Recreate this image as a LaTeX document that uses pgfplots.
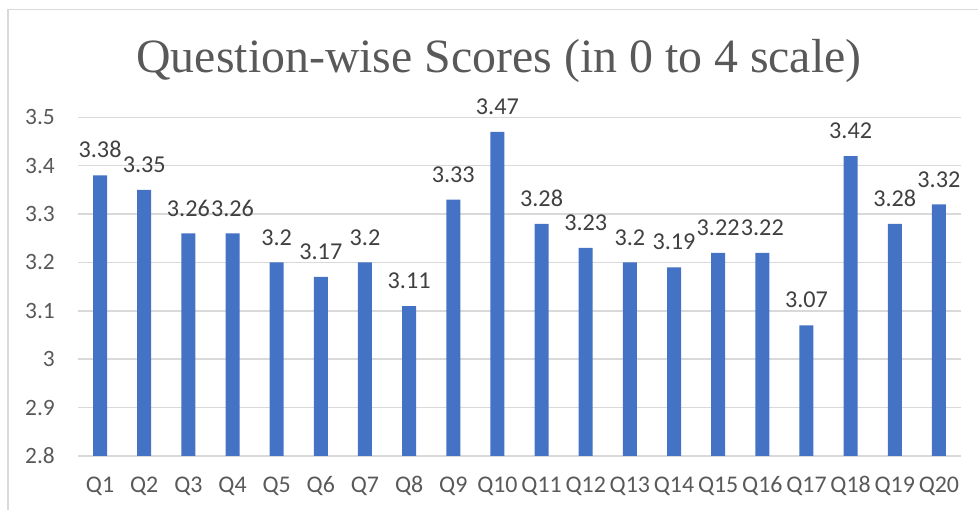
\documentclass[border=0pt]{standalone}
\usepackage{pgfplots}
\pgfplotsset{compat=1.18}
\usepackage{fontspec}
\setmainfont{Carlito}
\newfontfamily\titlefont{Liberation Serif}
\definecolor{barc}{HTML}{4472C4}
\definecolor{gridc}{HTML}{D9D9D9}
\definecolor{borderc}{HTML}{D9D9D9}
\definecolor{titlec}{HTML}{595959}
\definecolor{tickc}{HTML}{595959}
\definecolor{labelc}{HTML}{404040}
\begin{document}
\begin{tikzpicture}
\path[use as bounding box] (0bp,0bp) rectangle (978bp,510bp);
\draw[color=borderc, line width=1.2bp] (8bp,0bp) -- (8bp,500.7bp) -- (978bp,500.7bp);
\node[anchor=base, inner sep=0pt, font=\titlefont\fontsize{48}{52}\selectfont, text=titlec] at (499bp,437bp) {Question-wise Scores (in 0 to 4 scale)};
\begin{axis}[
  at={(78bp,54bp)}, anchor=south west,
  scale only axis, width=883bp, height=338.7bp,
  xmin=0.5, xmax=20.5, ymin=2.8, ymax=3.5,
  ytick={2.8,2.9,3,3.1,3.2,3.3,3.4,3.5},
  xtick={1,...,20},
  xticklabels={Q1,Q2,Q3,Q4,Q5,Q6,Q7,Q8,Q9,Q10,Q11,Q12,Q13,Q14,Q15,Q16,Q17,Q18,Q19,Q20},
  /pgf/number format/assume math mode=true,
  axis line style={draw=none},
  major tick length=0pt,
  ymajorgrids, grid style={color=gridc, line width=1.5bp},
  yticklabel style={font=\fontsize{23.5}{26}\selectfont, text=tickc, anchor=east, inner sep=0pt, xshift=-23bp},
  xticklabel style={font=\fontsize{24}{26}\selectfont, text=tickc, anchor=base, inner sep=0pt, yshift=-37bp},
  clip=false,
  ybar, bar width=14bp,
  nodes near coords={\pgfmathprintnumber{\pgfplotspointmeta}},
  nodes near coords style={font=\fontsize{24.3}{26}\selectfont, text=labelc, anchor=south, inner sep=0pt, yshift=17bp},
]
\addplot[draw=none, fill=barc] coordinates {
(1,3.38) (2,3.35) (3,3.26) (4,3.26) (5,3.2) (6,3.17) (7,3.2) (8,3.11) (9,3.33) (10,3.47)
(11,3.28) (12,3.23) (13,3.2) (14,3.19) (15,3.22) (16,3.22) (17,3.07) (18,3.42) (19,3.28) (20,3.32)
};
\end{axis}
\end{tikzpicture}
\end{document}
